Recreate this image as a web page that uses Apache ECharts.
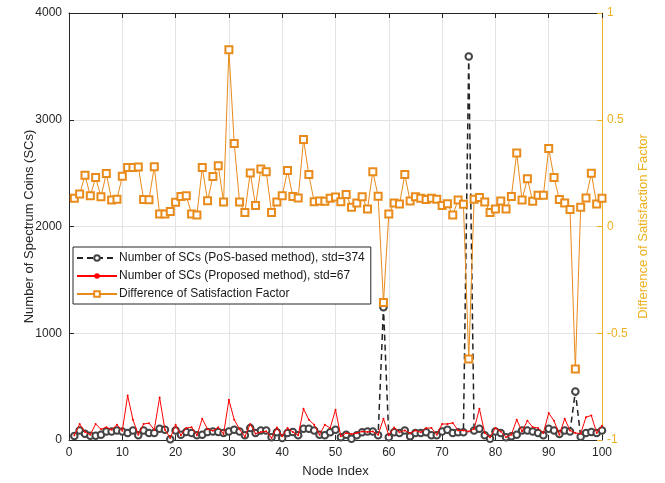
<!DOCTYPE html>
<html>
<head>
<meta charset="utf-8">
<script src="https://cdn.jsdelivr.net/npm/echarts@6/dist/echarts.min.js"></script>
<style>
  html, body { margin: 0; padding: 0; background: #fff; }
  #chart { width: 665px; height: 483px; }
</style>
</head>
<body>
<div id="chart"></div>
<script>
// node index 1..100
const nodeIndex = Array.from({ length: 100 }, (_, i) => i + 1)

// Number of SCs, PoS-based method (std=374)
const posSC = [
  37, 90, 59, 40, 40, 50, 80, 80, 90, 80,
  65, 90, 44, 90, 65, 65, 106, 96, 6, 90,
  50, 75, 65, 44, 50, 75, 80, 75, 65, 80,
  96, 80, 44, 112, 65, 90, 90, 25, 72, 19,
  65, 75, 44, 106, 106, 90, 50, 44, 72, 96,
  25, 50, 12, 44, 72, 80, 80, 44, 1243, 25,
  72, 65, 90, 34, 65, 65, 72, 44, 44, 80,
  96, 65, 72, 72, 3593, 90, 106, 44, 12, 80,
  65, 25, 34, 50, 90, 90, 80, 65, 44, 106,
  90, 56, 90, 80, 454, 31, 65, 75, 65, 90
]

// Number of SCs, proposed method (std=67)
const propSC = [
  44, 150, 75, 50, 150, 100, 120, 96, 143, 87,
  416, 190, 50, 150, 158, 96, 398, 96, 19, 143,
  44, 112, 120, 44, 199, 100, 87, 120, 56, 376,
  190, 100, 31, 150, 59, 75, 81, 19, 118, 34,
  112, 75, 44, 292, 190, 143, 50, 143, 112, 283,
  34, 65, 56, 65, 80, 75, 80, 50, 199, 44,
  118, 72, 90, 62, 90, 72, 112, 112, 50, 150,
  150, 160, 90, 90, 80, 103, 292, 65, 25, 112,
  80, 25, 50, 190, 80, 180, 121, 112, 65, 252,
  180, 50, 199, 90, 65, 60, 214, 230, 65, 134
]

// Difference of Satisfaction Factor (right axis)
const diffSF = [
  0.132, 0.152, 0.24, 0.144, 0.229, 0.139, 0.248, 0.124, 0.128, 0.235,
  0.276, 0.276, 0.279, 0.127, 0.125, 0.28, 0.059, 0.059, 0.07, 0.113,
  0.141, 0.144, 0.059, 0.054, 0.276, 0.121, 0.234, 0.285, 0.115, 0.828,
  0.389, 0.115, 0.065, 0.251, 0.098, 0.269, 0.257, 0.065, 0.115, 0.144,
  0.262, 0.141, 0.133, 0.407, 0.243, 0.116, 0.119, 0.118, 0.132, 0.138,
  0.116, 0.15, 0.09, 0.11, 0.139, 0.082, 0.257, 0.142, -0.356, 0.059,
  0.11, 0.105, 0.243, 0.119, 0.139, 0.132, 0.127, 0.132, 0.128, 0.098,
  0.107, 0.054, 0.124, 0.104, -0.621, 0.128, 0.136, 0.115, 0.065, 0.082,
  0.119, 0.082, 0.141, 0.344, 0.124, 0.224, 0.118, 0.146, 0.146, 0.365,
  0.229, 0.127, 0.11, 0.08, -0.668, 0.09, 0.133, 0.249, 0.105, 0.132
]

const seriesNames = [
  'Number of SCs (PoS-based method), std=374',
  'Number of SCs (Proposed method), std=67',
  'Difference of Satisfaction Factor'
]

const FONT = '"Liberation Sans", Arial, sans-serif'
const AXIS_COLOR = '#262626'
const RIGHT_COLOR = '#EDB120'
const GRID_COLOR = '#e3e3e3'

const pairs = (vals) => nodeIndex.map((x, i) => [x, vals[i]])

const chart = echarts.init(document.getElementById('chart'), null, { renderer: 'canvas' })

const option = {
  animation: false,
  backgroundColor: '#fff',
  textStyle: { fontFamily: FONT },
  grid: {
    left: 69,
    right: 63,
    top: 13,
    bottom: 41
  },
  legend: {
    orient: 'vertical',
    left: 73,
    top: 247,
    data: seriesNames,
    itemWidth: 40,
    itemHeight: 7,
    itemGap: 6,
    padding: [5, 6, 4, 3],
    backgroundColor: '#fff',
    borderColor: AXIS_COLOR,
    borderWidth: 1,
    borderRadius: 0,
    textStyle: { fontSize: 12, color: '#1a1a1a', fontFamily: FONT, padding: [0, 0, 0, -3] }
  },
  xAxis: [{
    type: 'value',
    min: 0,
    max: 100,
    interval: 10,
    name: 'Node Index',
    nameLocation: 'middle',
    nameGap: 25,
    nameTextStyle: { fontSize: 13, color: AXIS_COLOR },
    axisLine: { onZero: false, lineStyle: { color: AXIS_COLOR } },
    axisTick: { inside: true, length: 5, lineStyle: { color: AXIS_COLOR } },
    axisLabel: { fontSize: 12, color: AXIS_COLOR, margin: 7 },
    splitLine: { show: true, lineStyle: { color: GRID_COLOR } }
  }, {
    type: 'value',
    position: 'top',
    min: 0,
    max: 100,
    interval: 10,
    axisLine: { show: true, onZero: false, lineStyle: { color: AXIS_COLOR } },
    axisTick: { show: true, inside: true, length: 5, lineStyle: { color: AXIS_COLOR } },
    axisLabel: { show: false },
    splitLine: { show: false }
  }],
  yAxis: [{
    type: 'value',
    min: 0,
    max: 4000,
    interval: 1000,
    name: 'Number of Spectrum Coins (SCs)',
    nameLocation: 'middle',
    nameGap: 33,
    nameMoveOverlap: false,
    nameTextStyle: { fontSize: 13, color: AXIS_COLOR },
    axisLine: { show: true, onZero: false, lineStyle: { color: AXIS_COLOR } },
    axisTick: { show: true, inside: true, length: 5, lineStyle: { color: AXIS_COLOR } },
    axisLabel: { fontSize: 12, color: AXIS_COLOR, margin: 7, formatter: (v) => String(v) },
    splitLine: { show: true, lineStyle: { color: GRID_COLOR } }
  }, {
    type: 'value',
    position: 'right',
    min: -1,
    max: 1,
    interval: 0.5,
    name: 'Difference of Satisfaction Factor',
    nameLocation: 'middle',
    nameGap: 35,
    nameMoveOverlap: false,
    nameTextStyle: { fontSize: 13, color: RIGHT_COLOR },
    axisLine: { show: true, onZero: false, lineStyle: { color: RIGHT_COLOR } },
    axisTick: { show: true, inside: true, length: 5, lineStyle: { color: RIGHT_COLOR } },
    axisLabel: { fontSize: 12, color: RIGHT_COLOR, margin: 5 },
    splitLine: { show: false }
  }],
  series: [{
    name: seriesNames[0],
    type: 'line',
    xAxisIndex: 0,
    yAxisIndex: 0,
    data: pairs(posSC),
    symbol: 'emptyCircle',
    symbolSize: 6.5,
    showAllSymbol: true,
    color: '#444',
    lineStyle: { color: '#222', width: 1.5, type: [6, 4] },
    itemStyle: { color: '#444', borderColor: '#444', borderWidth: 0.9 },
    z: 3
  }, {
    name: seriesNames[1],
    type: 'line',
    xAxisIndex: 0,
    yAxisIndex: 0,
    data: pairs(propSC),
    symbol: 'circle',
    symbolSize: 2,
    showAllSymbol: true,
    color: '#ff0000',
    lineStyle: { color: '#ff0000', width: 1 },
    itemStyle: { color: '#ff0000' },
    z: 4
  }, {
    name: seriesNames[2],
    type: 'line',
    xAxisIndex: 0,
    yAxisIndex: 1,
    data: pairs(diffSF),
    symbol: 'emptyRect',
    symbolSize: 7,
    showAllSymbol: true,
    color: '#e98b1a',
    lineStyle: { color: '#e98b1a', width: 1 },
    itemStyle: { color: '#e98b1a', borderColor: '#f0a548', borderWidth: 0.9 },
    z: 5
  }]
}

chart.setOption(option)
</script>
</body>
</html>
